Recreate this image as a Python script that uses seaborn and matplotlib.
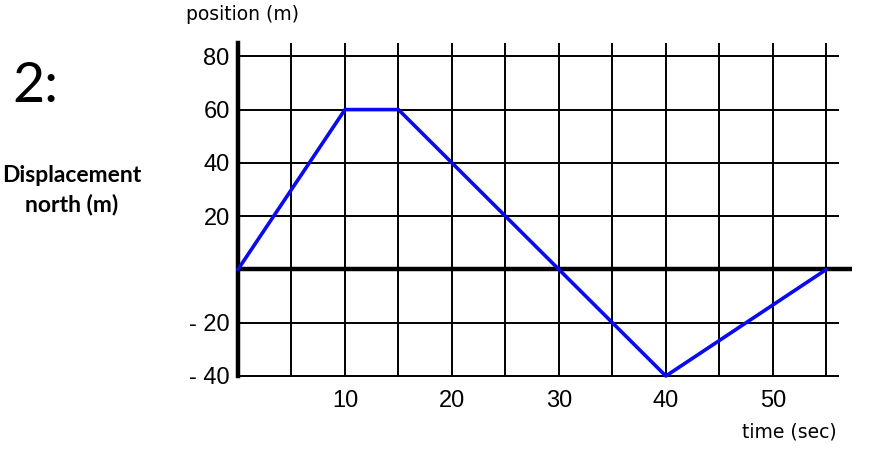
import numpy as np
import pandas as pd
import matplotlib
matplotlib.use("Agg")
import matplotlib.pyplot as plt
import seaborn as sns

# position vs time
time_s = [0, 10, 15, 30, 40, 55]
position_m = [0, 60, 60, 0, -40, 0]

x_grid = [5, 10, 15, 20, 25, 30, 35, 40, 45, 50, 55]
y_grid = [-40, -20, 20, 40, 60, 80]
x_ticks = [10, 20, 30, 40, 50]
y_ticks = [-40, -20, 20, 40, 60, 80]
y_tick_labels = ["- 40", "- 20", "20", "40", "60", "80"]

sns.set_style("white")
plt.rcParams["font.family"] = ["Liberation Sans", "DejaVu Sans"]
plt.rcParams["text.color"] = "black"
plt.rcParams["xtick.color"] = "black"
plt.rcParams["ytick.color"] = "black"

W, H = 869, 449
fig = plt.figure(figsize=(W / 100, H / 100), dpi=100)
left, right, top, bottom = 238, 852, 43, 376
ax = fig.add_axes([left / W, 1 - bottom / H, (right - left) / W, (bottom - top) / H])

x_max = 57.4
y_max = 85
ax.set_xlim(0, x_max)
ax.set_ylim(-40, y_max)

# grid
ax.vlines(x_grid, -40, y_max, color="black", lw=1.4, clip_on=False, zorder=1)
ax.hlines(y_grid, 0, 56.2, color="black", lw=1.4, clip_on=False, zorder=1)
ax.hlines(0, 0, x_max, color="black", lw=3.2, clip_on=False, zorder=2)

df = pd.DataFrame({"time": time_s, "position": position_m})
sns.lineplot(data=df, x="time", y="position", color="#0a0aee", lw=2.6,
             ax=ax, clip_on=False, zorder=3, sort=False)

for s in ["top", "right", "bottom"]:
    ax.spines[s].set_visible(False)
ax.spines["left"].set_linewidth(3.2)
ax.spines["left"].set_color("black")

ax.set_xticks(x_ticks)
ax.set_xticklabels([str(t) for t in x_ticks], fontsize=17)
ax.set_yticks(y_ticks)
ax.set_yticklabels(y_tick_labels, fontsize=17)
ax.tick_params(axis="x", length=0, pad=10)
ax.tick_params(axis="y", length=0, pad=6)
ax.set_xlabel("")
ax.set_ylabel("")

fig.text(186 / W, 1 - 15 / H, "position (m)", fontsize=13.5, ha="left", va="center",
         family=["DejaVu Sans"])
fig.text(837 / W, 1 - 432 / H, "time (sec)", fontsize=13.5, ha="right", va="center",
         family=["DejaVu Sans"])

fig.text(35 / W, 1 - 87 / H, "2:", fontsize=40, ha="center", va="center",
         family=["Lato", "DejaVu Sans"])
fig.text(72 / W, 1 - 190 / H, "Displacement\nnorth (m)", fontsize=16.5,
         fontweight="bold", ha="center", va="center", linespacing=1.4,
         family=["Lato", "DejaVu Sans"])

fig.savefig("out.png", dpi=100)
